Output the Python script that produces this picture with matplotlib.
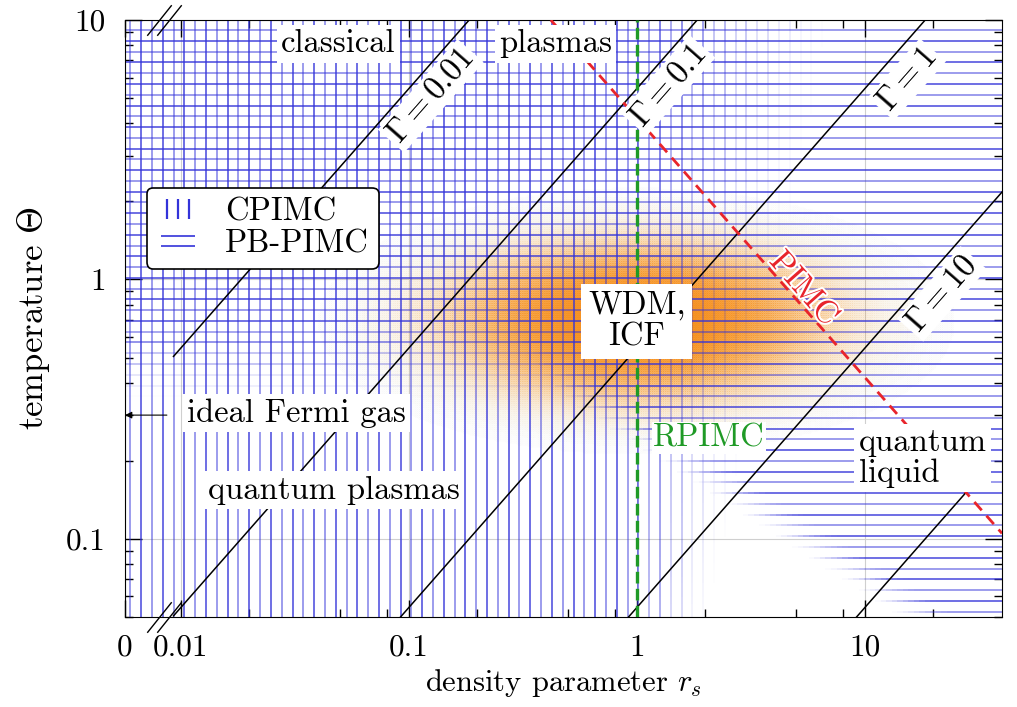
import numpy as np
import matplotlib
matplotlib.use('Agg')
import matplotlib.pyplot as plt
from matplotlib.collections import LineCollection
from matplotlib.colors import LinearSegmentedColormap
from matplotlib.lines import Line2D
from matplotlib.path import Path
import matplotlib.patheffects as pe

plt.rcParams['font.family'] = 'serif'
plt.rcParams['font.serif'] = ['cmr10']
plt.rcParams['mathtext.fontset'] = 'cm'
plt.rcParams['axes.unicode_minus'] = False

# axis ranges (density parameter rs, temperature Theta)
rs_lim = (0.0057, 40.0)
theta_lim = (0.05, 10.0)
rs_break = 0.0093          # curves start right of the axis break
break_marks = [0.0080, 0.0089]

# coupling parameter lines, Gamma = 2 lambda^2 rs / Theta
lam = (4 / (9 * np.pi)) ** (1 / 3)
gammas = [0.01, 0.1, 1, 10, 100]
gamma_rs_max = [40, 40, 40, 40, 27.8]
gamma_texts = ['0.01', '0.1', '1', '10']
gamma_text_rs = [0.125, 1.37, 15.3, 21.8]
gamma_text_theta = [5.1, 5.6, 5.9, 0.88]

# PIMC boundary Theta = C / rs, RPIMC boundary rs = 1
pimc_const = 4.2
rpimc_rs = 1.0

# WDM / ICF region (centre and width in decades)
wdm_rs, wdm_theta = 1.0, 0.69
wdm_wx, wdm_wy = 0.42, 0.155

# hatch spacing in decades
cpimc_step = 0.0474
pbpimc_step = 0.0415

x_ticks = [rs_lim[0], 0.01, 0.1, 1, 10]
x_ticklabels = ['0', '0.01', '0.1', '1', '10']
x_minor = [0.02, 0.05, 0.08, 0.2, 0.5, 0.8, 2, 5, 8, 20]
y_ticks = [0.1, 1, 10]
y_ticklabels = ['0.1', '1', '10']
y_minor = [k * d for d in (0.01, 0.1, 1) for k in range(2, 10) if 0.05 <= k * d < 10]

blue = (0.2, 0.2, 0.85)
red = '#e8242b'
green = '#1f9a26'
FS = 23.5


def smooth(t):
    t = np.clip(t, 0, 1)
    return t * t * (3 - 2 * t)


def cpimc_alpha(lr, lt):
    lo = np.log10(0.75)
    hi = np.log10(2.2) + 0.25 * (lt + 1.3)
    return 1 - smooth((lr - lo) / (hi - lo))


def pbpimc_alpha(lr, lt):
    a1 = smooth((lt - np.log10(0.33)) / (np.log10(0.75) - np.log10(0.33)))
    lrb = (-0.569 - lt) / 0.57
    a2 = smooth((lr - lrb) / 0.3 + 0.5)
    return np.maximum(a1, a2)


def faded_lines(fixed, running, vertical, alpha_fn):
    mids = np.sqrt(running[:-1] * running[1:])
    segs, alph = [], []
    for i, c in enumerate(fixed):
        if vertical:
            a = alpha_fn(np.log10(c), np.log10(mids))
            pts = [[(c, lo), (c, hi)] for lo, hi in zip(running[:-1], running[1:])]
        else:
            a = alpha_fn(np.log10(mids), np.log10(c))
            pts = [[(lo, c), (hi, c)] for lo, hi in zip(running[:-1], running[1:])]
        a = a * (0.9 if i % 2 else 0.62)
        for p, ai in zip(pts, a):
            if ai > 0.01:
                segs.append(p)
                alph.append(ai)
    colors = np.zeros((len(alph), 4))
    colors[:, :3] = blue
    colors[:, 3] = alph
    return LineCollection(segs, colors=colors, linewidths=1.1, capstyle='butt', zorder=2)


fig = plt.figure(figsize=(10.17, 7.07), dpi=100)
ax = fig.add_axes([125 / 1017, 1 - 617 / 707, 877 / 1017, 597 / 707])
ax.set_xscale('log')
ax.set_yscale('log')
ax.set_xlim(*rs_lim)
ax.set_ylim(*theta_lim)

# angle of a slope-1 line on screen
dec_x = np.log10(rs_lim[1] / rs_lim[0])
dec_y = np.log10(theta_lim[1] / theta_lim[0])
ang = np.degrees(np.arctan((597 / dec_y) / (877 / dec_x)))

# WDM glow (under the hatching)
lx0, lx1 = np.log10(rs_lim)
ly0, ly1 = np.log10(theta_lim)
lr = np.linspace(lx0, lx1, 400)
lt = np.linspace(ly0, ly1, 300)
LR, LT = np.meshgrid(lr, lt)
Z = np.exp(-0.5 * (((LR - np.log10(wdm_rs)) / wdm_wx) ** 2
                   + ((LT - np.log10(wdm_theta)) / wdm_wy) ** 2))
glow = LinearSegmentedColormap.from_list(
    'glow', [(0.97, 0.6, 0.15, 0.0), (0.96, 0.56, 0.12, 0.9)])
ax.pcolormesh(10 ** lr, 10 ** lt, Z, cmap=glow, shading='gouraud', zorder=1.5, rasterized=True)

# hatching: CPIMC (vertical) and PB-PIMC (horizontal)
v_pos = 10 ** np.arange(lx0 + cpimc_step / 2, lx1, cpimc_step)
h_pos = 10 ** np.arange(ly0 + pbpimc_step / 2, ly1, pbpimc_step)
ax.add_collection(faded_lines(v_pos, np.logspace(ly0, ly1, 90), True, cpimc_alpha))
ax.add_collection(faded_lines(h_pos, np.logspace(lx0, lx1, 160), False, pbpimc_alpha))

# Gamma lines
for g, rmax in zip(gammas, gamma_rs_max):
    r = np.logspace(np.log10(rs_break), np.log10(rmax), 200)
    ax.plot(r, 2 * lam ** 2 * r / g, color='k', lw=1.1, zorder=3)

for txt, x, y in zip(gamma_texts, gamma_text_rs, gamma_text_theta):
    ax.text(x, y, r'$\Gamma = %s$' % txt, fontsize=FS, rotation=ang, ha='center', va='center',
            rotation_mode='anchor', zorder=6,
            bbox=dict(fc='white', ec='none', pad=2))

# PIMC and RPIMC boundaries
r = np.logspace(np.log10(pimc_const / theta_lim[1]), lx1, 200)
ax.plot(r, pimc_const / r, color=red, lw=2.0, dashes=(4, 2.6), zorder=4)
ax.plot([rpimc_rs, rpimc_rs], theta_lim, color=green, lw=2.4, dashes=(3.5, 1.6), zorder=4)

ax.text(5.4, 0.92, 'PIMC', color=red, fontsize=FS, rotation=-ang, ha='center', va='center',
        rotation_mode='anchor', zorder=6,
        path_effects=[pe.withStroke(linewidth=3, foreground='white')])
ax.text(2.07, 0.245, 'RPIMC', color=green, fontsize=FS, ha='center', va='center', zorder=6,
        bbox=dict(fc='white', ec='none', pad=1))

box = dict(fc='white', ec='none', pad=3)
ax.text(0.049, 8.1, 'classical', fontsize=FS, ha='center', va='center', zorder=6, bbox=box)
ax.text(0.44, 8.1, 'plasmas', fontsize=FS, ha='center', va='center', zorder=6, bbox=box)
ax.text(wdm_rs, wdm_theta, 'WDM,\nICF', fontsize=FS, ha='center', va='center', zorder=6,
        linespacing=1.1, bbox=dict(fc='white', ec='none', pad=5))
ax.text(9.4, 0.205, 'quantum\nliquid', fontsize=FS, ha='left', va='center', zorder=6,
        linespacing=1.05, bbox=box)
ax.text(0.0322, 0.305, 'ideal Fermi gas', fontsize=FS, ha='center', va='center', zorder=6,
        bbox=box)
ax.text(0.047, 0.154, 'quantum plasmas', fontsize=FS, ha='center', va='center', zorder=6,
        bbox=box)
ax.annotate('', xy=(rs_lim[0], 0.3), xytext=(0.0087, 0.3), zorder=6,
            arrowprops=dict(arrowstyle='-|>', color='k', lw=0.8, mutation_scale=10,
                            shrinkA=0, shrinkB=0))

# axis break marks
slash = Path([(-0.8, -1), (0.8, 1)], [Path.MOVETO, Path.LINETO])
for yb in theta_lim:
    ax.plot(break_marks, [yb, yb], ls='none', marker=slash, ms=22, mec='k', mew=1.0,
            mfc='none', clip_on=False, zorder=10)

# ticks
ax.set_xticks(x_ticks)
ax.set_xticklabels(x_ticklabels)
ax.set_xticks(x_minor, minor=True)
ax.set_xticklabels([], minor=True)
ax.set_yticks(y_ticks)
ax.set_yticklabels(y_ticklabels)
ax.set_yticks(y_minor, minor=True)
ax.set_yticklabels([], minor=True)
ax.tick_params(which='both', direction='in', top=True, right=True, width=1.0, labelsize=22.5)
ax.tick_params(which='major', length=12)
ax.tick_params(which='minor', length=6)
ax.tick_params(axis='x', pad=12)
ax.tick_params(axis='y', pad=14)
ax.grid(True, which='major', color='#cfcfcf', lw=0.8, zorder=0)
ax.set_axisbelow(True)

ax.set_xlabel(r'density parameter $r_s$', fontsize=22)
ax.set_ylabel(r'temperature $\Theta$', fontsize=25, labelpad=10)

# legend
vbar = Path([(-1, -0.9), (-1, 0.9), (0, -0.9), (0, 0.9), (1, -0.9), (1, 0.9)],
            [Path.MOVETO, Path.LINETO] * 3)
hbar = Path([(-1, -0.3), (1, -0.3), (-1, 0.3), (1, 0.3)], [Path.MOVETO, Path.LINETO] * 2)
handles = [Line2D([], [], ls='none', marker=vbar, ms=16, mec=blue, mfc='none', mew=1.6),
           Line2D([], [], ls='none', marker=hbar, ms=24, mec=blue, mfc='none', mew=1.2)]
leg = ax.legend(handles, ['CPIMC', 'PB-PIMC'], loc='upper left', bbox_to_anchor=(0.025, 0.719),
                borderaxespad=0, fontsize=FS, frameon=True, fancybox=True, framealpha=1,
                edgecolor='k', handlelength=1.3, handletextpad=0.8, labelspacing=0.1,
                borderpad=0.3)
leg.get_frame().set_linewidth(1.2)
leg.set_zorder(8)

fig.savefig('out.png', dpi=100)
